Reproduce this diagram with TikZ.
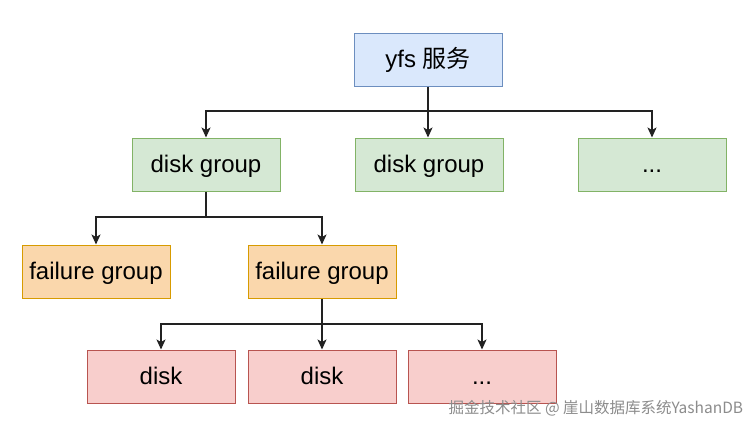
\documentclass[tikz,border=0pt]{standalone}
\usepackage{fontspec}
\setmainfont{Liberation Sans}
\newfontfamily\cjk{Noto Sans CJK SC}
\usetikzlibrary{arrows.meta}
\definecolor{blueFill}{HTML}{DAE8FC}
\definecolor{blueLine}{HTML}{6C8EBF}
\definecolor{greenFill}{HTML}{D5E8D4}
\definecolor{greenLine}{HTML}{82B366}
\definecolor{orangeFill}{HTML}{FAD7AC}
\definecolor{orangeLine}{HTML}{D79B00}
\definecolor{redFill}{HTML}{F8CECC}
\definecolor{redLine}{HTML}{B85450}
\definecolor{wire}{HTML}{222222}
\tikzset{
	box/.style={rectangle,draw,line width=1pt,minimum width=148pt,minimum height=53pt,inner sep=0pt,text height=19pt,text depth=3pt,font=\fontsize{24}{28}\selectfont},
	svc/.style={box,fill=blueFill,draw=blueLine},
	grp/.style={box,fill=greenFill,draw=greenLine},
	fail/.style={box,fill=orangeFill,draw=orangeLine},
	dsk/.style={box,fill=redFill,draw=redLine},
	link/.style={draw=wire,line width=1.1pt,-{Stealth[length=10pt,width=9pt,inset=2.5pt]}}
}
\begin{document}
\begin{tikzpicture}[x=1pt,y=-1pt]
			\useasboundingbox[fill=white] (0,0) rectangle (755,431);
			
			\node[svc]	(yfs) at (428, 59.5)   {yfs {\cjk 服务}};
			
			\node[grp]	(dg-1) at (206, 164.5) 	{disk group};
			\node[grp]	(dg-2) at (429, 164.5) 	{disk group};
			\node[grp]	(dg-3) at (652, 164.5) 	{...};
			
			\node[fail]	(fg-1) at (96,  271.5) 	{failure group};
			\node[fail]	(fg-2) at (322, 271.5) 	{failure group};
			
			\node[dsk]	(d-1) at (161, 376.5) 	{disk};
			\node[dsk]	(d-2) at (322, 376.5) 	{disk};
			\node[dsk]	(d-3) at (482, 376.5) 	{...};
			
			\coordinate (bus1) at (428, 111);
			\coordinate (bus2) at (206, 217);
			\coordinate (bus3) at (322, 324);
			
			\path [link] (yfs.south) -- (bus1) -| (dg-1.north);
			\path [link] (bus1) -- (dg-2.north -| bus1);
			\path [link] (bus1) -| (dg-3.north);
			
			\path [link] (dg-1.south) -- (bus2) -| (fg-1.north);
			\path [link] (bus2) -| (fg-2.north);
			
			\path [link] (fg-2.south) -- (bus3) -| (d-1.north);
			\path [link] (bus3) -- (d-2.north);
			\path [link] (bus3) -| (d-3.north);
			
			\node[anchor=west,text=black!45,font=\cjk\fontsize{15.5}{18}\selectfont] (mark) at (445, 408.5) {掘金技术社区 @ 崖山数据库系统YashanDB};
\end{tikzpicture}
\end{document}
